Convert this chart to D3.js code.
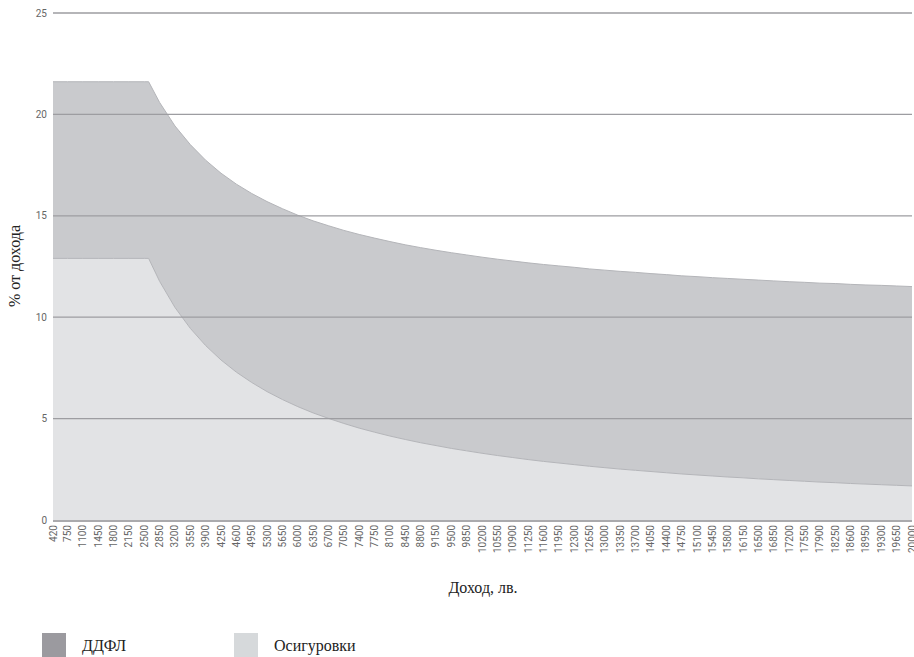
<!DOCTYPE html>
<html><head><meta charset="utf-8">
<script src="https://cdn.jsdelivr.net/npm/d3@7/dist/d3.min.js"></script>
<style>body{margin:0;background:#fff}svg{display:block}</style>
</head><body>
<script>
const income = [420,750,1100,1450,1800,2150,2500,2600,2850,3200,3550,3900,4250,4600,4950,5300,5650,6000,6350,6700,7050,7400,7750,8100,8450,8800,9150,9500,9850,10200,10550,10900,11250,11600,11950,12300,12650,13000,13350,13700,14050,14400,14750,15100,15450,15800,16150,16500,16850,17200,17550,17900,18250,18600,18950,19300,19650,20000];
const insurance = [12.9,12.9,12.9,12.9,12.9,12.9,12.9,12.9,11.77,10.48,9.45,8.60,7.89,7.29,6.78,6.33,5.94,5.59,5.28,5.01,4.76,4.53,4.33,4.14,3.97,3.81,3.67,3.53,3.41,3.29,3.18,3.08,2.98,2.89,2.81,2.73,2.65,2.58,2.51,2.45,2.39,2.33,2.27,2.22,2.17,2.12,2.08,2.03,1.99,1.95,1.91,1.87,1.84,1.80,1.77,1.74,1.71,1.68];
const ddfl = [8.71,8.71,8.71,8.71,8.71,8.71,8.71,8.71,8.82,8.95,9.06,9.14,9.21,9.27,9.32,9.37,9.41,9.44,9.47,9.50,9.52,9.55,9.57,9.59,9.60,9.62,9.63,9.65,9.66,9.67,9.68,9.69,9.70,9.71,9.72,9.73,9.73,9.74,9.75,9.76,9.76,9.77,9.77,9.78,9.78,9.79,9.79,9.80,9.80,9.80,9.81,9.81,9.82,9.82,9.82,9.83,9.83,9.83];
const xTickLabels = [420,750,1100,1450,1800,2150,2500,2850,3200,3550,3900,4250,4600,4950,5300,5650,6000,6350,6700,7050,7400,7750,8100,8450,8800,9150,9500,9850,10200,10550,10900,11250,11600,11950,12300,12650,13000,13350,13700,14050,14400,14750,15100,15450,15800,16150,16500,16850,17200,17550,17900,18250,18600,18950,19300,19650,20000];
const yTicks = [0,5,10,15,20,25];
const seriesNames = ["ДДФЛ","Осигуровки"];
const fills = {"ДДФЛ":"#c9cacd","Осигуровки":"#e2e3e5"};
const swatch = {"ДДФЛ":"#9b9a9f","Осигуровки":"#d6d9db"};

const W=914,H=657;
const svg=d3.select("body").append("svg").attr("width",W).attr("height",H);
const x=d3.scaleLinear().domain([420,20000]).range([53,912]);
const y=d3.scaleLinear().domain([0,25]).range([520,13]);

const rows=income.map((v,i)=>({income:v,"Осигуровки":insurance[i],"ДДФЛ":ddfl[i]}));
const stack=d3.stack().keys(["Осигуровки","ДДФЛ"])(rows);
const area=d3.area().x(d=>x(d.data.income)).y0(d=>y(d[0])).y1(d=>y(d[1]));
const line=d3.line().x(d=>x(d.data.income)).y(d=>y(d[1]));

svg.append("g").selectAll("path").data(stack).join("path")
  .attr("d",area).attr("fill",d=>fills[d.key]);
svg.append("g").selectAll("path").data(stack).join("path")
  .attr("d",line).attr("fill","none").attr("stroke","#b4b5b9").attr("stroke-width",1);

// grid
svg.append("g").selectAll("line").data(yTicks.filter(t=>t>0)).join("line")
  .attr("x1",53).attr("x2",912).attr("y1",d=>y(d)).attr("y2",d=>y(d))
  .attr("stroke","#9d9da1").attr("stroke-width",1.3);
svg.append("line").attr("x1",53).attr("x2",912).attr("y1",y(0)+1).attr("y2",y(0)+1)
  .attr("stroke","#aaaaad").attr("stroke-width",2);

// y labels
svg.append("g").selectAll("text").data(yTicks).join("text")
  .attr("x",47).attr("y",d=>y(d)).attr("dy","0.35em").attr("text-anchor","end")
  .attr("font-family","Roboto, sans-serif").attr("font-size",10).attr("fill","#666")
  .text(d=>d);

// x labels
svg.append("g").selectAll("text").data(xTickLabels).join("text")
  .attr("transform",d=>`translate(${x(d)},525) rotate(-90)`)
  .attr("dy","0.35em").attr("text-anchor","end")
  .attr("font-family","Roboto, sans-serif").attr("font-size",10).attr("fill","#666")
  .text(d=>d);

// titles
svg.append("text").attr("transform","translate(20,266) rotate(-90)").attr("text-anchor","middle")
  .attr("font-family","Liberation Serif, serif").attr("font-size",16).attr("fill","#222").text("% от дохода");
svg.append("text").attr("x",483).attr("y",593).attr("text-anchor","middle")
  .attr("font-family","Liberation Serif, serif").attr("font-size",16).attr("fill","#222").text("Доход, лв.");

// legend
const lx=[42,234];
seriesNames.forEach((n,i)=>{
  svg.append("rect").attr("x",lx[i]).attr("y",633).attr("width",24).attr("height",24).attr("fill",swatch[n]);
  svg.append("text").attr("x",lx[i]+40).attr("y",651).attr("font-family","Liberation Serif, serif")
    .attr("font-size",16).attr("fill","#222").text(n);
});
</script>
</body></html>
